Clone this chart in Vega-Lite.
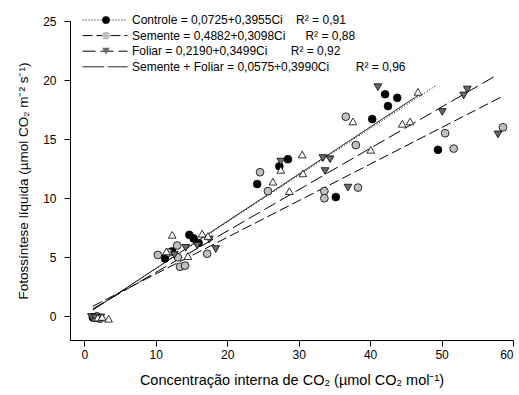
{
  "$schema": "https://vega.github.io/schema/vega-lite/v6.json",
  "width": 443,
  "height": 319,
  "autosize": {"type": "none"},
  "padding": {"left": 70, "top": 21, "right": 6, "bottom": 55},
  "background": "white",
  "config": {
    "view": {"stroke": null},
    "font": "Liberation Sans",
    "axis": {
      "grid": false,
      "domainColor": "black",
      "tickColor": "black",
      "labelColor": "black",
      "titleColor": "black",
      "labelFont": "Liberation Sans",
      "titleFont": "Liberation Sans",
      "labelFontSize": 12,
      "titleFontSize": 13,
      "titleFontWeight": "normal",
      "tickSize": 6,
      "domainWidth": 1,
      "tickWidth": 1
    },
    "legend": {
      "labelFont": "Liberation Sans", "labelColor": "black", "title": null, "orient": "none",
      "padding": 0, "labelFontSize": 12, "clipHeight": 12, "rowPadding": 3.6
    }
  },
  "datasets": {
    "pontos": [
      {"trat": "Controle", "ci": 1.2, "a": -0.1},
      {"trat": "Controle", "ci": 1.6, "a": -0.05},
      {"trat": "Controle", "ci": 2.0, "a": -0.15},
      {"trat": "Controle", "ci": 11.3, "a": 4.9},
      {"trat": "Controle", "ci": 12.3, "a": 5.5},
      {"trat": "Controle", "ci": 14.7, "a": 6.9},
      {"trat": "Controle", "ci": 15.3, "a": 6.6},
      {"trat": "Controle", "ci": 16.0, "a": 6.2},
      {"trat": "Controle", "ci": 24.2, "a": 11.2},
      {"trat": "Controle", "ci": 27.3, "a": 12.7},
      {"trat": "Controle", "ci": 28.5, "a": 13.3},
      {"trat": "Controle", "ci": 35.2, "a": 10.1},
      {"trat": "Controle", "ci": 40.3, "a": 16.7},
      {"trat": "Controle", "ci": 42.1, "a": 18.8},
      {"trat": "Controle", "ci": 42.5, "a": 17.8},
      {"trat": "Controle", "ci": 43.8, "a": 18.5},
      {"trat": "Controle", "ci": 49.5, "a": 14.1},
      {"trat": "Semente", "ci": 1.4, "a": -0.1},
      {"trat": "Semente", "ci": 1.8, "a": 0.0},
      {"trat": "Semente", "ci": 2.2, "a": -0.2},
      {"trat": "Semente", "ci": 10.3, "a": 5.2},
      {"trat": "Semente", "ci": 11.8, "a": 5.4},
      {"trat": "Semente", "ci": 13.0, "a": 6.0},
      {"trat": "Semente", "ci": 13.1, "a": 5.0},
      {"trat": "Semente", "ci": 13.4, "a": 4.2},
      {"trat": "Semente", "ci": 14.1, "a": 4.3},
      {"trat": "Semente", "ci": 17.2, "a": 5.3},
      {"trat": "Semente", "ci": 24.6, "a": 12.2},
      {"trat": "Semente", "ci": 25.7, "a": 10.6},
      {"trat": "Semente", "ci": 33.6, "a": 10.6},
      {"trat": "Semente", "ci": 33.6, "a": 10.0},
      {"trat": "Semente", "ci": 36.6, "a": 16.9},
      {"trat": "Semente", "ci": 38.0, "a": 14.5},
      {"trat": "Semente", "ci": 38.3, "a": 10.9},
      {"trat": "Semente", "ci": 50.5, "a": 15.5},
      {"trat": "Semente", "ci": 51.7, "a": 14.2},
      {"trat": "Semente", "ci": 58.6, "a": 16.0},
      {"trat": "Foliar", "ci": 1.0, "a": -0.05},
      {"trat": "Foliar", "ci": 1.5, "a": -0.1},
      {"trat": "Foliar", "ci": 2.3, "a": -0.1},
      {"trat": "Foliar", "ci": 12.6, "a": 5.2},
      {"trat": "Foliar", "ci": 14.2, "a": 5.8},
      {"trat": "Foliar", "ci": 15.8, "a": 6.0},
      {"trat": "Foliar", "ci": 17.5, "a": 6.5},
      {"trat": "Foliar", "ci": 18.4, "a": 5.7},
      {"trat": "Foliar", "ci": 27.5, "a": 13.1},
      {"trat": "Foliar", "ci": 33.4, "a": 13.4},
      {"trat": "Foliar", "ci": 34.4, "a": 13.3},
      {"trat": "Foliar", "ci": 33.7, "a": 12.3},
      {"trat": "Foliar", "ci": 36.9, "a": 10.9},
      {"trat": "Foliar", "ci": 41.1, "a": 19.4},
      {"trat": "Foliar", "ci": 50.1, "a": 17.3},
      {"trat": "Foliar", "ci": 53.1, "a": 18.7},
      {"trat": "Foliar", "ci": 53.6, "a": 19.2},
      {"trat": "Foliar", "ci": 57.9, "a": 15.4},
      {"trat": "Semente + Foliar", "ci": 1.9, "a": -0.1},
      {"trat": "Semente + Foliar", "ci": 2.5, "a": -0.05},
      {"trat": "Semente + Foliar", "ci": 3.4, "a": -0.2},
      {"trat": "Semente + Foliar", "ci": 11.5, "a": 5.5},
      {"trat": "Semente + Foliar", "ci": 12.3, "a": 6.9},
      {"trat": "Semente + Foliar", "ci": 14.5, "a": 5.1},
      {"trat": "Semente + Foliar", "ci": 16.5, "a": 7.0},
      {"trat": "Semente + Foliar", "ci": 17.3, "a": 6.8},
      {"trat": "Semente + Foliar", "ci": 26.4, "a": 11.4},
      {"trat": "Semente + Foliar", "ci": 27.5, "a": 12.4},
      {"trat": "Semente + Foliar", "ci": 28.7, "a": 10.6},
      {"trat": "Semente + Foliar", "ci": 30.5, "a": 13.7},
      {"trat": "Semente + Foliar", "ci": 30.6, "a": 12.1},
      {"trat": "Semente + Foliar", "ci": 37.6, "a": 16.5},
      {"trat": "Semente + Foliar", "ci": 40.1, "a": 14.1},
      {"trat": "Semente + Foliar", "ci": 44.5, "a": 16.3},
      {"trat": "Semente + Foliar", "ci": 45.6, "a": 16.5},
      {"trat": "Semente + Foliar", "ci": 46.7, "a": 19.0}
    ],
    "retas": [
      {"tratamento": "Controle", "ci": 1.2, "a": 0.547},
      {"tratamento": "Controle", "ci": 49.3, "a": 19.571},
      {"tratamento": "Semente", "ci": 1.2, "a": 0.860},
      {"tratamento": "Semente", "ci": 58.5, "a": 18.611},
      {"tratamento": "Foliar", "ci": 1.2, "a": 0.639},
      {"tratamento": "Foliar", "ci": 57.3, "a": 20.268},
      {"tratamento": "Semente + Foliar", "ci": 1.2, "a": 0.536},
      {"tratamento": "Semente + Foliar", "ci": 46.8, "a": 18.731}
    ]
  },
  "resolve": {"scale": {"shape": "independent"}, "legend": {"shape": "independent"}},
  "layer": [
    {
      "data": {"name": "retas"},
      "mark": {"type": "line", "color": "black", "strokeWidth": 1},
      "encoding": {
        "x": {
          "field": "ci", "type": "quantitative",
          "scale": {"domain": [-2, 60], "nice": false, "zero": false},
          "axis": {"values": [0, 10, 20, 30, 40, 50, 60], "labelPadding": 3, "titlePadding": 13,
                   "titleFontSize": 14.5,
                   "title": "Concentração interna de CO₂ (µmol CO₂ mol⁻¹)"}
        },
        "y": {
          "field": "a", "type": "quantitative",
          "scale": {"domain": [-2, 25], "nice": false, "zero": false},
          "axis": {"values": [0, 5, 10, 15, 20, 25], "labelPadding": 8, "titlePadding": 12,
                   "titleFontSize": 13.5,
                   "title": "Fotossíntese líquida (µmol CO₂ m⁻² s⁻¹)"}
        },
        "strokeDash": {
          "field": "tratamento", "type": "nominal",
          "sort": ["Controle", "Semente", "Foliar", "Semente + Foliar"],
          "scale": {"range": [[1, 2], [10, 4], [13, 5], [1, 0]]},
          "legend": {
            "legendX": 12, "legendY": -7,
            "symbolType": "stroke", "symbolSize": 2025, "symbolStrokeColor": "black", "symbolStrokeWidth": 1,
            "labelLimit": 0, "labelOffset": 4,
            "labelExpr": "datum.label == 'Controle' ? 'Controle = 0,0725+0,3955Ci\u00a0\u00a0\u00a0\u00a0R² = 0,91' : datum.label == 'Semente' ? 'Semente = 0,4882+0,3098Ci\u00a0\u00a0\u00a0\u00a0\u00a0\u00a0R² = 0,88' : datum.label == 'Foliar' ? 'Foliar = 0,2190+0,3499Ci\u00a0\u00a0\u00a0\u00a0\u00a0\u00a0\u00a0R² = 0,92' : 'Semente + Foliar = 0,0575+0,3990Ci\u00a0\u00a0\u00a0\u00a0\u00a0\u00a0\u00a0\u00a0R² = 0,96'"
          }
        }
      }
    },
    {
      "data": {"name": "pontos"},
      "transform": [{"filter": "datum.trat === 'Controle'"}],
      "mark": {"type": "point", "filled": true, "fill": "#000000", "stroke": "black", "strokeWidth": 0.8, "size": 60, "opacity": 1},
      "encoding": {
        "x": {"field": "ci", "type": "quantitative"},
        "y": {"field": "a", "type": "quantitative"},
        "shape": {
          "field": "trat", "type": "nominal",
          "scale": {"range": ["circle"]},
          "legend": {"legendX": 30, "legendY": -7, "symbolSize": 60, "symbolStrokeColor": "black", "symbolStrokeWidth": 0.8, "labelOpacity": 0,
                     "encode": {"symbols": {"stroke": {"value": "black"}, "strokeWidth": {"value": 0.8}, "strokeOpacity": {"value": 1}}}}
        }
      }
    },
    {
      "data": {"name": "pontos"},
      "transform": [{"filter": "datum.trat === 'Semente'"}],
      "mark": {"type": "point", "filled": true, "fill": "#bfbfbf", "stroke": "black", "strokeWidth": 0.8, "size": 60, "opacity": 1},
      "encoding": {
        "x": {"field": "ci", "type": "quantitative"},
        "y": {"field": "a", "type": "quantitative"},
        "shape": {
          "field": "trat", "type": "nominal",
          "scale": {"range": ["circle"]},
          "legend": {"legendX": 30, "legendY": 8.6, "symbolSize": 60, "symbolStrokeColor": "black", "symbolStrokeWidth": 0.8, "labelOpacity": 0,
                     "encode": {"symbols": {"stroke": {"value": "black"}, "strokeWidth": {"value": 0.8}, "strokeOpacity": {"value": 1}}}}
        }
      }
    },
    {
      "data": {"name": "pontos"},
      "transform": [{"filter": "datum.trat === 'Foliar'"}],
      "mark": {"type": "point", "filled": true, "fill": "#6b6b6b", "stroke": "black", "strokeWidth": 0.8, "size": 60, "opacity": 1},
      "encoding": {
        "x": {"field": "ci", "type": "quantitative"},
        "y": {"field": "a", "type": "quantitative"},
        "shape": {
          "field": "trat", "type": "nominal",
          "scale": {"range": ["triangle-down"]},
          "legend": {"legendX": 30, "legendY": 24.2, "symbolSize": 60, "symbolStrokeColor": "black", "symbolStrokeWidth": 0.8, "labelOpacity": 0,
                     "encode": {"symbols": {"stroke": {"value": "black"}, "strokeWidth": {"value": 0.8}, "strokeOpacity": {"value": 1}}}}
        }
      }
    },
    {
      "data": {"name": "pontos"},
      "transform": [{"filter": "datum.trat === 'Semente + Foliar'"}],
      "mark": {"type": "point", "filled": true, "fill": "#ffffff", "stroke": "black", "strokeWidth": 0.8, "size": 60, "opacity": 1},
      "encoding": {
        "x": {"field": "ci", "type": "quantitative"},
        "y": {"field": "a", "type": "quantitative"},
        "shape": {
          "field": "trat", "type": "nominal",
          "scale": {"range": ["triangle-up"]},
          "legend": {"legendX": 30, "legendY": 39.8, "symbolSize": 60, "symbolStrokeColor": "black", "symbolStrokeWidth": 0.8, "labelOpacity": 0,
                     "encode": {"symbols": {"stroke": {"value": "black"}, "strokeWidth": {"value": 0.8}, "strokeOpacity": {"value": 1}}}}
        }
      }
    }
  ]
}
